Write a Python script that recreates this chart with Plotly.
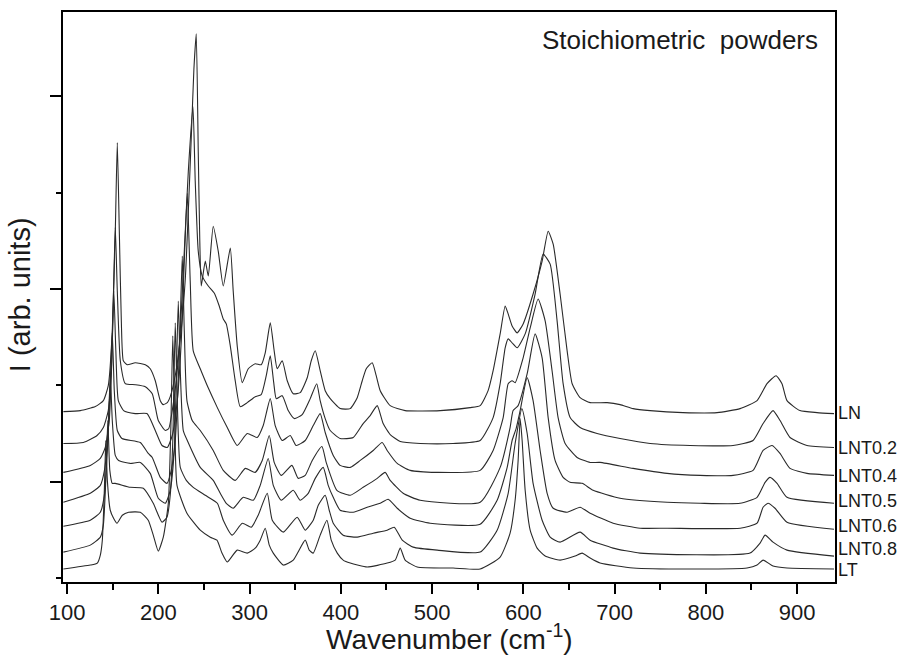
import plotly.graph_objects as go

# Raman spectra (wavenumber cm-1, intensity in arb. units incl. vertical stacking offset)
LN = [(96,167),(114.6,168),(131,172),(139.8,178),(145.2,193),(149.6,248),(152.9,348),(155.1,437),(157.3,348),
      (159.5,258),(161.7,218),(166,214),(174.8,216),(185.8,214),(191.2,210),(196.7,198),(202.2,178),(205.5,174),
      (209.9,176),(213.1,182),(218.6,203),(224.1,240),(229.6,300),(233,370),(236.5,450),(239,510),(241.6,546),
      (243.8,428),(245.5,338),(247.1,293),(251.5,318),(254.8,303),(260.2,353),(265.7,328),(271.2,293),(278.9,331),
      (282.1,288),(286.5,233),(292,196),(298.6,210),(306.2,215),(312.8,214),(317.2,226),(322.7,256),(327,228),
      (330.3,210),(335.8,218),(341.3,198),(347.9,185),(355.5,186),(363.2,201),(367.6,218),(372,228),(377.4,208),
      (382.9,188),(388.4,180),(399.3,170),(410.3,170),(418,181),(423.5,198),(427.9,210),(434.4,216),(438.8,203),
      (443.2,188),(454.1,173),(470.5,168),(508.9,168),(541.7,171),(552.7,173),(561.4,188),(566.9,208),(574.6,245),
      (580.1,273),(583.4,265),(587.7,253),(593.2,246),(599.8,255),(610.7,285),(620.6,318),(627.2,348),(632.7,335),
      (640.3,285),(648,228),(653.5,195),(662.2,181),(673.2,176),(691.8,176),(706,174),(720.3,170),(738.9,168),
      (775,166),(812.3,166),(837.5,170),(856.1,178),(867,195),(876.9,203),(883.4,195),(888.9,178),(903.1,168),
      (921.8,166),(940.4,165)]

LNT02 = [(96,135),(117.9,136),(132.9,143),(139.8,151),(145.2,168),(148.5,208),(150.7,278),(152.9,352),(155.1,288),
         (158.4,218),(163.9,195),(174.8,194),(185.8,192),(193.4,185),(200,158),(207.7,148),(211.5,150),(215.3,168),
         (219.7,198),(224.1,248),(228.5,328),(232.9,408),(238,473),(240.5,398),(243.8,328),(248.2,303),(254.8,293),
         (261.3,286),(266.8,273),(271.2,260),(274.5,255),(278.9,233),(284.3,198),(289.8,172),(297.5,176),(306.2,182),
         (312.8,184),(318.3,203),(322.7,223),(326.5,196),(329.3,180),(335.8,183),(342.4,168),(349,160),(357.7,164),
         (366.5,180),(373.6,195),(377.4,178),(382.9,160),(388.4,148),(399.3,140),(413.6,141),(424.5,155),(432.2,163),
         (439.9,173),(446.4,155),(454.1,144),(465.1,137),(487,135),(523.1,135),(552.7,138),(566.9,161),(574.6,195),
         (580.1,231),(583.4,240),(587.7,236),(593.2,231),(602,245),(612.9,285),(621.7,325),(629.4,315),(637,258),
         (643.6,195),(651.3,161),(662.2,151),(680.8,145),(706,140),(738.9,135),(782.7,133),(829.8,133),(851.7,138),
         (862.7,155),(873.6,168),(881.3,158),(892.2,141),(910.8,133),(940.4,131)]

LNT04 = [(96,106),(125.5,113),(136.5,120),(141.9,131),(146.3,158),(149.1,218),(151.3,288),(153.5,228),(156.2,178),
         (162,168),(174.8,165),(187.6,165),(196.7,148),(204.1,133),(209.9,131),(215.3,143),(220.8,178),(225.2,238),
         (228.5,318),(231.8,386),(235,298),(238.3,228),(246,210),(253.7,193),(264.7,171),(275.6,151),(286.5,133),
         (297.5,145),(308.4,141),(315,153),(322.7,180),(328.1,153),(335.8,138),(344.6,143),(351.1,133),(361,138),
         (369.8,153),(377.4,165),(382.9,146),(391.7,123),(399.3,113),(410.3,111),(421.3,118),(435.5,128),(445.3,136),
         (450.8,128),(461.8,115),(476,108),(505.6,106),(552.7,108),(566.9,128),(577.9,161),(583.4,195),(587.7,198),
         (591,196),(599.8,221),(607.5,251),(616.2,280),(623.9,258),(631.5,208),(638.1,161),(645.8,135),(658.9,121),
         (673.2,116),(684.1,116),(720.3,110),(757.5,105),(793.7,103),(829.8,103),(851.7,108),(862.7,128),(872.5,133),
         (881.2,125),(892.2,110),(910.8,105),(940.4,103)]

LNT05 = [(96,76),(125.5,85),(136.5,93),(141,108),(145.2,148),(147.4,198),(149.6,246),(151.8,188),(155.1,148),
         (160.2,140),(180.3,136),(189,125),(193.4,121),(202.2,101),(209.5,95),(214.2,108),(218.6,138),(221.9,198),
         (224.1,258),(226.3,323),(228.5,248),(231.4,178),(237.2,158),(246,148),(260.2,128),(271.2,108),(284.3,98),
         (295.3,110),(306.2,106),(313.9,118),(321.6,143),(327,116),(334.7,103),(346.4,113),(353.3,100),(361,103),
         (368.7,118),(379.3,132),(384,116),(395.7,88),(410.3,83),(424.5,91),(439.9,100),(448.6,106),(454.1,98),
         (468.3,85),(487,78),(552.7,76),(574.6,111),(585.5,151),(588.8,168),(594.3,173),(604.2,205),(612.9,245),
         (620.6,221),(627.2,161),(634.8,118),(643.6,101),(651.3,96),(664.4,95),(676.5,88),(706,80),(757.5,76),
         (793.7,75),(837.5,75),(856.1,81),(864.9,96),(870.3,101),(878,95),(888.9,81),(940.4,75)]

LNT06 = [(96,52),(125.5,58),(136.5,66),(140.9,83),(144.2,128),(147.4,203),(149.6,158),(152.9,123),(156.5,118),
         (169.3,115),(180.3,116),(191.2,105),(200,80),(207.7,75),(213.1,88),(217.5,128),(219.7,198),(221.9,278),
         (224.1,208),(227.4,148),(231.8,138),(246,111),(260.2,98),(267.9,85),(274.5,75),(282.1,70),(293.1,81),
         (304.1,78),(311.7,93),(320.5,120),(326,93),(334.7,78),(347.9,88),(355.5,78),(364.3,85),(372,100),
         (380.7,111),(386.2,93),(391.7,81),(399.3,68),(413.6,66),(428.9,71),(443.2,75),(451.9,79),(461.8,70),
         (476,60),(497.9,55),(552.7,54),(571.3,78),(582.3,111),(587.7,138),(592.1,150),(596.5,168),(604.2,201),
         (610.7,178),(618.4,128),(626.1,85),(632.7,70),(648,66),(662.2,71),(673.2,65),(698.4,55),(727.9,50),
         (757.5,50),(837.5,50),(856.1,55),(862.7,71),(868.1,75),(875.8,70),(888.9,56),(940.4,49)]

LNT08 = [(96,26),(125.5,33),(136.5,41),(139.8,53),(142.5,98),(144.7,158),(146.9,108),(149.6,95),(152.9,95),
         (169.3,91),(183.6,90),(194.5,75),(204.1,56),(209.5,61),(213.1,83),(215.9,138),(218.6,256),(220.8,178),
         (224.1,111),(230.7,98),(238.3,91),(251.5,83),(264.7,75),(271.2,58),(281,43),(292,55),(301.9,51),
         (309.5,63),(319.4,85),(324.9,58),(337,46),(352.2,61),(361,48),(369.8,58),(375.3,73),(382.9,83),
         (387.3,68),(391.7,55),(402.6,43),(418,41),(435.5,45),(450.8,48),(458.5,51),(467.3,38),(479.3,31),
         (505.6,28),(552.7,26),(571.3,48),(583.4,85),(591,135),(598.4,170),(604.2,145),(610.7,95),(620.6,58),
         (629.4,41),(640.3,36),(662.2,46),(673.2,38),(698.4,30),(727.9,25),(848.4,25),(859.4,35),(864.9,43),
         (873.6,36),(888.9,28),(940.4,22)]

LT = [(96,9),(125.5,13),(133.2,15),(136.5,23),(138.7,38),(140.9,88),(142.5,138),(144.2,98),(147.4,68),(151,60),
      (154.8,55),(160.6,63),(167.5,66),(180.3,66),(189,58),(194.5,43),(200,27),(205.5,41),(211,75),(213.7,148),
      (215.9,243),(218.1,158),(220.5,93),(231.4,65),(246,48),(257,41),(264.3,38),(269.8,25),(275.6,16),(286.5,28),
      (297.5,25),(306.2,30),(311.7,38),(317.2,50),(321.6,33),(326,25),(337,13),(347.9,18),(361,38),(365.4,28),
      (369.8,25),(377.4,43),(384.8,58),(389.5,38),(396.1,25),(402.6,18),(410.3,15),(428.9,11),(450.8,15),
      (459.6,18),(465.1,30),(470.5,18),(483.7,11),(523.1,10),(552.7,9),(574.6,21),(585.5,45),(591,78),(594.3,118),
      (596.5,160),(598.7,138),(602,88),(607.5,48),(615.1,30),(623.9,22),(640.3,18),(656.7,22),(664.4,25),
      (673.2,20),(684.1,15),(720.3,10),(793.7,9),(845.1,10),(856.1,13),(862.7,18),(873.6,12),(888.9,10),(940.4,9)]

spectra = [LN, LNT02, LNT04, LNT05, LNT06, LNT08, LT]
names = ["LN", "LNT0.2", "LNT0.4", "LNT0.5", "LNT0.6", "LNT0.8", "LT"]
label_levels = [166, 130, 102, 77, 52, 29, 8]

x_ticks = [100, 200, 300, 400, 500, 600, 700, 800, 900]

FONT = "Arial, Liberation Sans, sans-serif"
fig = go.Figure()
for sp, nm in zip(spectra, names):
    fig.add_trace(go.Scatter(x=[p[0] for p in sp], y=[p[1] for p in sp], mode="lines", name=nm,
                             line=dict(color="#2a2a2a", width=1.1, shape="spline", smoothing=0.5),
                             showlegend=False))

for nm, lv in zip(names, label_levels):
    fig.add_annotation(x=1.0, xref="paper", y=lv, yref="y", text=nm, showarrow=False,
                       xanchor="left", yanchor="middle", xshift=1,
                       font=dict(family=FONT, size=18, color="#1a1a1a"))

fig.add_annotation(x=0.9806, xref="paper", y=0.951, yref="paper", text="Stoichiometric&nbsp;&nbsp;powders",
                   showarrow=False, xanchor="right", yanchor="middle",
                   font=dict(family=FONT, size=26, color="#1a1a1a"))
fig.add_annotation(x=0.501, xref="paper", y=-0.096, yref="paper", text="Wavenumber (cm<sup>-1</sup>)",
                   showarrow=False, xanchor="center", yanchor="middle",
                   font=dict(family=FONT, size=28, color="#1a1a1a"))
fig.add_annotation(x=-0.0557, xref="paper", y=0.505, yref="paper", text="I (arb. units)", textangle=-90,
                   showarrow=False, xanchor="center", yanchor="middle",
                   font=dict(family=FONT, size=29, color="#1a1a1a"))

fig.update_xaxes(range=[95.6, 941.5], tickmode="array", tickvals=x_ticks, ticktext=[str(t) for t in x_ticks],
                 ticks="outside", ticklen=10, tickwidth=1.5, tickcolor="black",
                 minor=dict(tickmode="linear", tick0=50, dtick=50, ticks="outside", ticklen=6, tickwidth=1.5, tickcolor="black"),
                 showline=True, linewidth=2, linecolor="black", mirror=True, showgrid=False, zeroline=False,
                 tickfont=dict(family=FONT, size=22, color="#1a1a1a"))
fig.update_yaxes(range=[-4, 568], tickmode="linear", tick0=96.7, dtick=193.4, showticklabels=False,
                 ticks="outside", ticklen=11, tickwidth=1.5, tickcolor="black",
                 minor=dict(tickmode="linear", tick0=0, dtick=96.7, ticks="outside", ticklen=5, tickwidth=1.5, tickcolor="black"),
                 showline=True, linewidth=2, linecolor="black", mirror=True, showgrid=False, zeroline=False)
fig.update_layout(width=905, height=664, margin=dict(l=63, r=70, t=10, b=82),
                  plot_bgcolor="white", paper_bgcolor="white")
fig.write_html("out.html")
